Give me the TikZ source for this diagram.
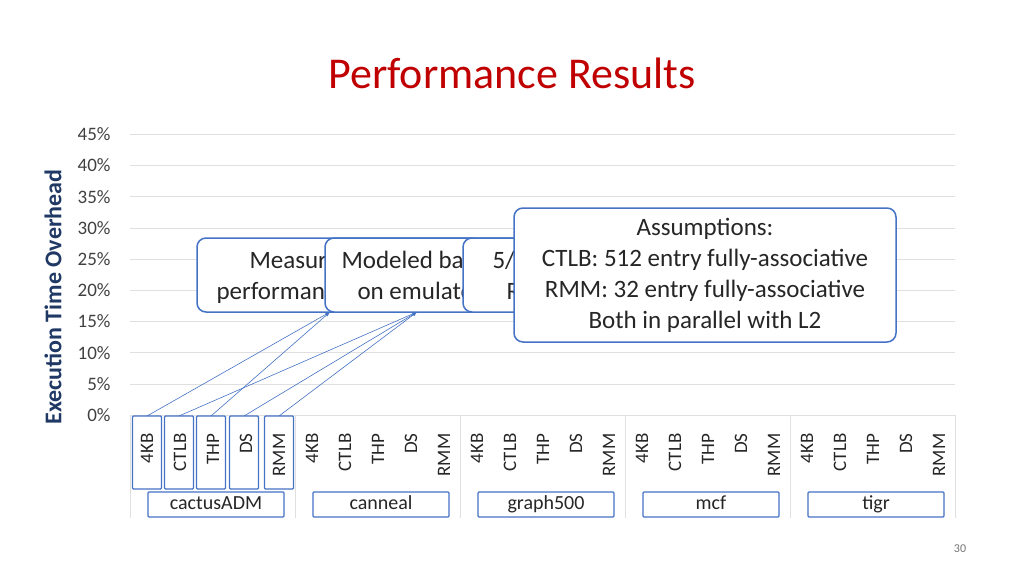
\documentclass[tikz,border=0pt]{standalone}
\usepackage{fontspec}
\setmainfont{Carlito}
\definecolor{acc}{RGB}{68,114,196}
\begin{document}
\begin{tikzpicture}[x=1pt,y=-1pt,
  grid/.style={draw=black!12,line width=0.6pt},
  callout/.style={draw=acc,fill=white,line width=1.5pt,rounded corners=9pt},
  hbox/.style={draw=acc,line width=1.2pt,rounded corners=1pt},
  cat/.style={rotate=90,anchor=center,font=\fontsize{19}{22}\selectfont,text=black!85},
  tick/.style={anchor=east,font=\fontsize{19}{22}\selectfont,text=black!75},
  cl/.style={font=\fontsize{25}{31}\selectfont,text=black!85},
  arr/.style={draw=acc,line width=0.6pt,-latex}]
\useasboundingbox (0,0) rectangle (1024,576);
\node[font=\fontsize{44}{50}\selectfont,text={rgb,255:red,192;green,0;blue,0}] (title) at (512,73) {Performance Results};
\foreach \i in {0,...,9}{
  \pgfmathsetmacro{\yy}{415-31.2*\i}
  \pgfmathtruncatemacro{\pc}{5*\i}
  \draw[grid] (130,\yy) -- (955,\yy);
  \node[tick] (t\i) at (114,\yy) {\pc\%};
}
\foreach \g in {0,...,5}{ \draw[grid] (130+165*\g,415) -- (130+165*\g,518); }
\node[rotate=90,font=\bfseries\fontsize{24}{28}\selectfont,text={rgb,255:red,31;green,56;blue,100}] (ytitle) at (53,297) {Execution Time Overhead};
\foreach \g/\nm in {0/cactusADM,1/canneal,2/graph500,3/mcf,4/tigr}{
  \foreach \c/\lab [count=\k from 0] in {4KB/4KB,CTLB/CTLB,THP/THP,DS/DS,RMM/RMM}{
    \node[cat,anchor=east] (c\g\c) at (147+165*\g+33*\k,430) {\lab};
  }
  \node[hbox,minimum width=136pt,minimum height=25pt,inner sep=0pt,text height=13pt,text depth=4pt,font=\fontsize{20}{22}\selectfont,text=black!85] (g\g) at (216+165*\g,504.5) {\nm};
}
\foreach \x/\n in {147/a,179/b,211/c,244/d,279/e}{
  \draw[hbox] (\x-14.5,416) rectangle (\x+14.5,489);
  \coordinate (h\n) at (\x,416);
}
% callouts
\draw[callout] (197,238) rectangle (480,312);
\node[cl,anchor=base west] (m1) at (246,268) {Measured native};
\node[cl,anchor=base west] (m2) at (213,299) {performance on x86};
\draw[callout] (325,238) rectangle (520,312);
\node[cl,anchor=base west] (o1) at (338,268) {Modeled based};
\node[cl,anchor=base west] (o2) at (354,299) {on emulator};
\draw[callout] (463,238) rectangle (560,312);
\node[cl,anchor=base west] (f1) at (489,268) {5/};
\node[cl,anchor=base west] (f2) at (503,299) {R};
\draw[callout] (514,208) rectangle (896,342);
\node[cl,align=center,anchor=center] (as) at (705,275) {Assumptions:\\CTLB: 512 entry fully-associative\\RMM: 32 entry fully-associative\\Both in parallel with L2};
\coordinate (pm) at (330,312);
\coordinate (po) at (417,312);
\draw[arr] (ha) -- (pm);
\draw[arr] (hc) -- (pm);
\draw[arr] (hb) -- (po);
\draw[arr] (hd) -- (po);
\draw[arr] (he) -- (po);
\node[font=\fontsize{12}{14}\selectfont,text=black!55] (pg) at (960,549) {30};
\end{tikzpicture}
\end{document}
